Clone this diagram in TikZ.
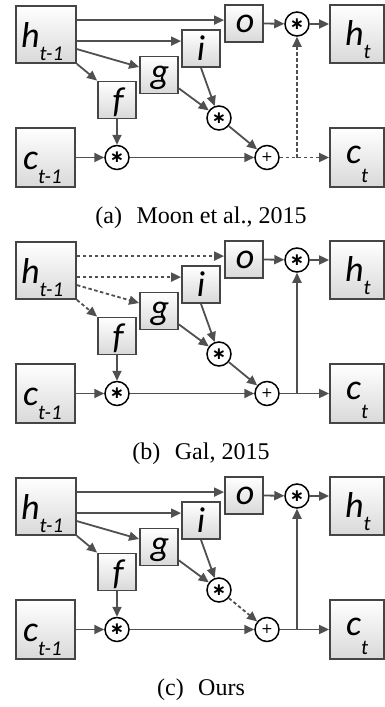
\documentclass[tikz,border=0pt]{standalone}
\usepackage{fontspec}
\setmainfont{Liberation Serif}
\newfontfamily\labfont{Carlito}
\newfontfamily\symfont{DejaVu Sans}
\usetikzlibrary{arrows.meta,calc}
\definecolor{ln}{HTML}{505050}
\definecolor{bd}{HTML}{454545}
\tikzset{
  box/.style={draw=bd, line width=1.8pt, top color=white, bottom color=black!15, inner sep=0pt},
  gate/.style={box, minimum width=38pt, minimum height=37pt},
  lab/.style={inner sep=0pt, anchor=base, font=\labfont\itshape\fontsize{36}{36}\selectfont},
  slab/.style={inner sep=0pt, anchor=base west, font=\labfont\itshape},
  op/.style={circle, draw=black, line width=1.5pt, fill=white, minimum size=24pt, inner sep=0pt},
  star/.style={font=\symfont\bfseries\fontsize{17}{17}\selectfont},
  plus/.style={font=\symfont\fontsize{14}{14}\selectfont},
  arr/.style={draw=ln, line width=1.8pt, -{Triangle[length=10pt,width=9pt]}},
  dsh/.style={dash pattern=on 3.5pt off 2.5pt},
  sld/.style={solid},
  captxt/.style={font=\fontsize{24}{24}\selectfont, inner sep=0pt}
}
\newcommand\sublab[3]{{\fontsize{36}{36}\selectfont #1}\raisebox{-#3}{\fontsize{21}{21}\selectfont #2}}
% #1 suffix, #2 y offset, #3 h->gates style, #4 mid->plus style, #5 output style, #6 caption
\newcommand\lstmpanel[6]{%
\begin{scope}[shift={(0,#2)}]
  \node[box, minimum width=60pt, minimum height=57pt] (h#1) at (46,34.5) {};
  \node[box, minimum width=59pt, minimum height=59pt] (c#1) at (45.5,157.5) {};
  \node[box, minimum width=54pt, minimum height=58pt] (ht#1) at (357,34) {};
  \node[box, minimum width=54pt, minimum height=59pt] (ct#1) at (357,157.5) {};
  \node[slab] (hl#1) at (21,47) {\sublab{h}{t-1}{13pt}};
  \node[slab] (cl#1) at (23,169) {\sublab{c}{t-1}{14pt}};
  \node[slab] (htl#1) at (345,45) {\sublab{h}{t}{13pt}};
  \node[slab] (ctl#1) at (346,163) {\sublab{c}{t}{19pt}};
  \node[gate] (o#1) at (244,23.5) {};
  \node[gate] (i#1) at (201,48.5) {};
  \node[gate] (g#1) at (159,75) {};
  \node[gate] (f#1) at (117,100) {};
  \node[lab] (ol#1) at (245,32.5) {o};
  \node[lab] (il#1) at (201,60) {i};
  \node[lab] (gl#1) at (160,83) {g};
  \node[lab] (fl#1) at (118,112) {f};
  \node[op] (pt#1) at (297,24) {};
  \node[op] (pm#1) at (219,118) {};
  \node[op] (pb#1) at (117,157.5) {};
  \node[op] (pl#1) at (267,157.5) {};
  \node[star] (ptl#1) at (pt#1) {∗};
  \node[star] (pml#1) at (pm#1) {∗};
  \node[star] (pbl#1) at (pb#1) {∗};
  \node[plus] (pll#1) at (pl#1) {+};
  \coordinate (j#1) at (pt#1 |- pl#1);
  % h_{t-1} to gates
  \draw[arr,#3] ($(h#1.north east)+(0,15)$) coordinate (a1#1) -- (o#1.west |- a1#1);
  \draw[arr,#3] ($(h#1.north east)+(0,36)$) coordinate (a2#1) -- (i#1.west |- a2#1);
  \draw[arr,#3] ($(h#1.north east)+(0,44)$) -- ($(g#1.west)+(0,-8)$);
  \draw[arr,#3] (h#1.south east) -- (f#1.north west);
  % cell
  \draw[arr] (f#1.south) -- (pb#1);
  \draw[arr] (c#1.east) -- (pb#1);
  \draw[arr] (pb#1) -- (pl#1);
  \draw[arr] (i#1.south) -- (pm#1);
  \draw[arr] ($(g#1.south east)+(0,-6)$) -- (pm#1);
  \draw[arr,#4] (pm#1) -- (pl#1);
  \draw[arr,#5] (pl#1) -- (ct#1.west);
  \draw[arr,#5] (j#1) -- (pt#1);
  \draw[arr] (o#1.east) -- (pt#1);
  \draw[arr] (pt#1) -- (ht#1.west |- pt#1);
  \node[captxt] (cap#1) at (201,218) {#6};
\end{scope}}
\begin{document}
\begin{tikzpicture}[x=1pt,y=-1pt]
  \useasboundingbox (0,0) rectangle (385,707);
  \lstmpanel{a}{0}{sld}{sld}{dsh}{(a)\hspace{0.6em}Moon et al., 2015}
  \lstmpanel{b}{236}{dsh}{sld}{sld}{(b)\hspace{0.6em}Gal, 2015}
  \lstmpanel{c}{472}{sld}{dsh}{sld}{(c)\hspace{0.6em}Ours}
\end{tikzpicture}
\end{document}
